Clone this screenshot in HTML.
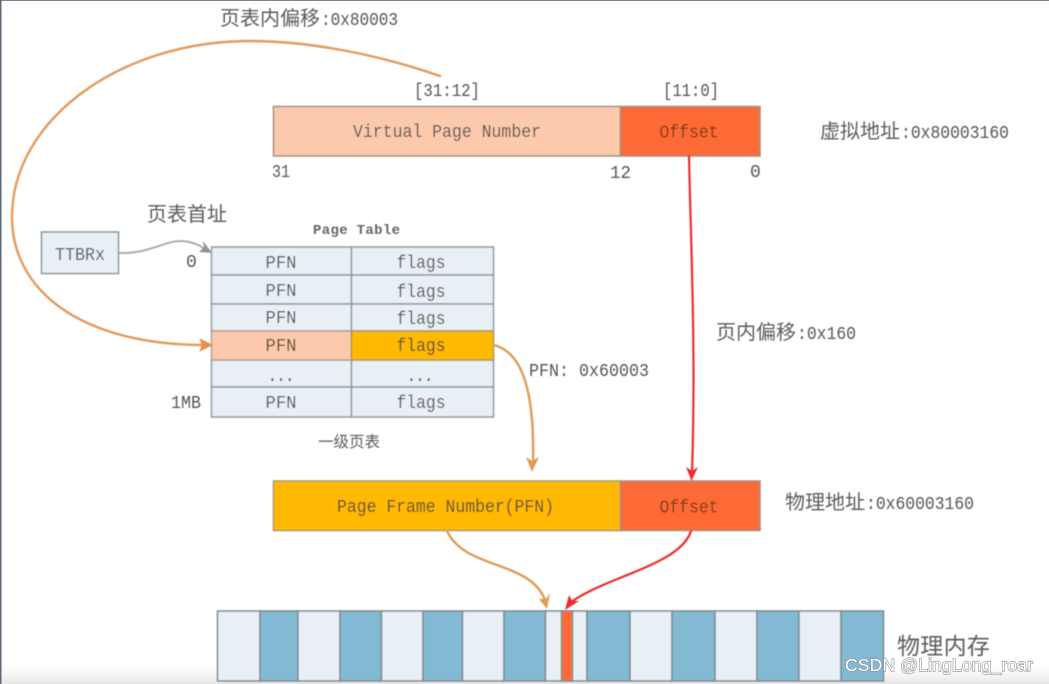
<!DOCTYPE html>
<html><head><meta charset="utf-8">
<style>
html,body{margin:0;padding:0;background:#fff;width:1049px;height:684px;overflow:hidden}
svg{display:block;position:absolute;left:0;top:0}
text{font-family:"Liberation Mono","Noto Sans CJK SC",monospace;fill:#555;font-size:18px}
.c{font-family:"Noto Sans CJK SC","Liberation Sans",sans-serif;font-size:20px;fill:#5c5c5c}
.m{text-anchor:middle}
.t{fill:#5a4a30}
</style></head><body>
<svg width="1049" height="684" viewBox="0 0 1049 684" xmlns="http://www.w3.org/2000/svg">
<defs>
<linearGradient id="bot" x1="0" y1="0" x2="0" y2="1"><stop offset="0" stop-color="#fff" stop-opacity="0"/><stop offset="1" stop-color="#e6e6e6"/></linearGradient>
<filter id="soft" filterUnits="userSpaceOnUse" x="0" y="0" width="1049" height="684"><feGaussianBlur stdDeviation="0.45"/></filter>
</defs>
<rect width="1049" height="684" fill="#fff"/>
<rect x="0" y="660" width="1049" height="24" fill="url(#bot)"/>
<rect x="0" y="0" width="1049" height="1" fill="#7a8494"/>
<rect x="0" y="0" width="1.5" height="684" fill="#5d6878"/>
<g filter="url(#soft)">
<!-- VA -->
<g stroke="#a08f85" stroke-width="1.5">
<rect x="273.5" y="106.5" width="347" height="49.5" fill="#fdc9ac"/>
<rect x="620.5" y="106.5" width="139.5" height="49.5" fill="#fe6a34"/>
</g>
<text x="447" y="137" class="m" textLength="188" lengthAdjust="spacingAndGlyphs">Virtual Page Number</text>
<text x="689" y="137.5" class="m" style="fill:#7a3a1c" textLength="59" lengthAdjust="spacingAndGlyphs">Offset</text>
<text x="447" y="96" class="m" textLength="66" lengthAdjust="spacingAndGlyphs">[31:12]</text>
<text x="691" y="96" class="m" textLength="56" lengthAdjust="spacingAndGlyphs">[11:0]</text>
<text x="272" y="177" textLength="18" lengthAdjust="spacingAndGlyphs">31</text>
<text x="610" y="178" textLength="21" lengthAdjust="spacingAndGlyphs">12</text>
<text x="750" y="177">0</text>
<text x="820" y="138" class="c">虚拟地址</text><text x="901" y="138" textLength="108" lengthAdjust="spacingAndGlyphs">:0x80003160</text>
<text x="220" y="25" class="c">页表内偏移</text><text x="321" y="25" textLength="77" lengthAdjust="spacingAndGlyphs">:0x80003</text>
<text x="147" y="221" class="c">页表首址</text>
<!-- TTBR -->
<rect x="41.5" y="232" width="77" height="41.5" fill="#e8eff5" stroke="#8c979c" stroke-width="1.5"/>
<text x="80" y="260" class="m" textLength="50" lengthAdjust="spacingAndGlyphs">TTBRx</text>
<text x="313" y="234" style="font-size:14px;font-weight:bold;fill:#666" textLength="87">Page Table</text>
<text x="186" y="267">0</text>
<text x="171" y="408" textLength="30" lengthAdjust="spacingAndGlyphs">1MB</text>
<!-- table -->
<g stroke="#8f9aa0" stroke-width="1.5">
<rect x="211.5" y="247" width="140" height="28" fill="#e8eff5"/>
<rect x="351.5" y="247" width="142" height="28" fill="#e8eff5"/>
<rect x="211.5" y="275" width="140" height="29" fill="#e8eff5"/>
<rect x="351.5" y="275" width="142" height="29" fill="#e8eff5"/>
<rect x="211.5" y="304" width="140" height="27" fill="#e8eff5"/>
<rect x="351.5" y="304" width="142" height="27" fill="#e8eff5"/>
<rect x="211.5" y="360" width="140" height="27" fill="#e8eff5"/>
<rect x="351.5" y="360" width="142" height="27" fill="#e8eff5"/>
<rect x="211.5" y="387" width="140" height="30" fill="#e8eff5"/>
<rect x="351.5" y="387" width="142" height="30" fill="#e8eff5"/>
<rect x="211.5" y="331" width="140" height="29" fill="#fdc9ac" stroke="#b0a090"/>
<rect x="351.5" y="331" width="142" height="29" fill="#ffb900" stroke="#a89a50"/>
</g>
<g>
<text x="281" y="268" class="m" textLength="31" lengthAdjust="spacingAndGlyphs">PFN</text><text x="421" y="268" class="m" textLength="49" lengthAdjust="spacingAndGlyphs">flags</text>
<text x="281" y="296" class="m" textLength="31" lengthAdjust="spacingAndGlyphs">PFN</text><text x="421" y="297" class="m" textLength="49" lengthAdjust="spacingAndGlyphs">flags</text>
<text x="281" y="323" class="m" textLength="31" lengthAdjust="spacingAndGlyphs">PFN</text><text x="421" y="324" class="m" textLength="49" lengthAdjust="spacingAndGlyphs">flags</text>
<text x="281" y="351" class="m t" textLength="31" lengthAdjust="spacingAndGlyphs">PFN</text><text x="421" y="351" class="m t" textLength="49" lengthAdjust="spacingAndGlyphs">flags</text>
<text x="281" y="381" class="m" textLength="28">...</text><text x="420" y="381" class="m" textLength="28">...</text>
<text x="281" y="408" class="m" textLength="31" lengthAdjust="spacingAndGlyphs">PFN</text><text x="421" y="408" class="m" textLength="49" lengthAdjust="spacingAndGlyphs">flags</text>
</g>
<text x="318" y="447" class="c" style="font-size:15.5px">一级页表</text>
<text x="529" y="376" textLength="40" lengthAdjust="spacingAndGlyphs">PFN:</text><text x="579" y="376" textLength="70" lengthAdjust="spacingAndGlyphs">0x60003</text>
<text x="716" y="339" class="c">页内偏移</text><text x="797" y="339" textLength="59" lengthAdjust="spacingAndGlyphs">:0x160</text>
<!-- PA -->
<g stroke="#a89a60" stroke-width="1.5">
<rect x="273.5" y="481" width="347" height="49.5" fill="#ffb900"/>
<rect x="620.5" y="481" width="139.5" height="49.5" fill="#fe6a34" stroke="#a08f85"/>
</g>
<text x="445.5" y="512" class="m t" textLength="217" lengthAdjust="spacingAndGlyphs">Page Frame Number(PFN)</text>
<text x="689" y="512.5" class="m" style="fill:#7a3a1c" textLength="59" lengthAdjust="spacingAndGlyphs">Offset</text>
<text x="785" y="509" class="c">物理地址</text><text x="866" y="509" textLength="108" lengthAdjust="spacingAndGlyphs">:0x60003160</text>
<!-- memory -->
<g stroke="#7f8a90" stroke-width="1.5">
<rect x="217.5" y="611" width="42.5" height="70" fill="#e8eff5"/>
<rect x="260" y="611" width="38" height="70" fill="#82b9d3"/>
<rect x="298" y="611" width="42" height="70" fill="#e8eff5"/>
<rect x="340" y="611" width="41.5" height="70" fill="#82b9d3"/>
<rect x="381.5" y="611" width="41.5" height="70" fill="#e8eff5"/>
<rect x="423" y="611" width="39.5" height="70" fill="#82b9d3"/>
<rect x="462.5" y="611" width="41.5" height="70" fill="#e8eff5"/>
<rect x="504" y="611" width="41.5" height="70" fill="#82b9d3"/>
<rect x="545.5" y="611" width="41.5" height="70" fill="#e8eff5"/>
<rect x="587" y="611" width="43" height="70" fill="#82b9d3"/>
<rect x="630" y="611" width="42" height="70" fill="#e8eff5"/>
<rect x="672" y="611" width="43" height="70" fill="#82b9d3"/>
<rect x="715" y="611" width="42" height="70" fill="#e8eff5"/>
<rect x="757" y="611" width="42" height="70" fill="#82b9d3"/>
<rect x="799" y="611" width="42" height="70" fill="#e8eff5"/>
<rect x="841" y="611" width="42.5" height="70" fill="#82b9d3"/>
<rect x="561.5" y="611" width="11" height="70" fill="#fe6a34"/>
</g>
<text x="897" y="654" class="c" style="font-size:23px;letter-spacing:.3px">物理内存</text>
<!-- connectors -->
<g fill="none" stroke-linecap="round">
<path d="M440 76 C380 55 310 41 250 41 C120 41 12 120 12 217 C12 290 80 345 205 345" stroke="#e39a5c" stroke-width="2.4"/>
<path d="M119 253 C150 254 165 240 183 241 C195 242 202 247 208 251" stroke="#a9adaf" stroke-width="2"/>
<path d="M494 345 C520 352 535 385 533 464" stroke="#df9b55" stroke-width="2.4"/>
<path d="M447 531 C465 570 530 560 545 600" stroke="#df9b55" stroke-width="2.4"/>
<path d="M689 156 C691 250 696 350 692 474" stroke="#ee2b2b" stroke-width="2.2"/>
<path d="M691 531 C680 565 610 575 571 602" stroke="#ee2b2b" stroke-width="2.2"/>
</g>
<polygon points="213,345 199,338 202,345 199,352" fill="#e8904c"/>
<polygon points="212,253 199,252 204,247 203,241" fill="#8f9497"/>
<polygon points="532,472 526,457 532,461 539,457" fill="#df9b55"/>
<polygon points="547,609 539,599 546,599 550,593" fill="#df9b55"/>
<polygon points="691.5,481 686,467 692,471 698,467" fill="#ee2b2b"/>
<polygon points="565,610 569,595 572,601 579,601" fill="#ee2b2b"/>
</g>
<text x="845" y="671" style="font-family:'Liberation Sans',sans-serif;font-size:17.5px;fill:#fff;stroke:#8a9298;stroke-width:1.2px;paint-order:stroke" textLength="188">CSDN @LingLong_roar</text>
</svg>
</body></html>
